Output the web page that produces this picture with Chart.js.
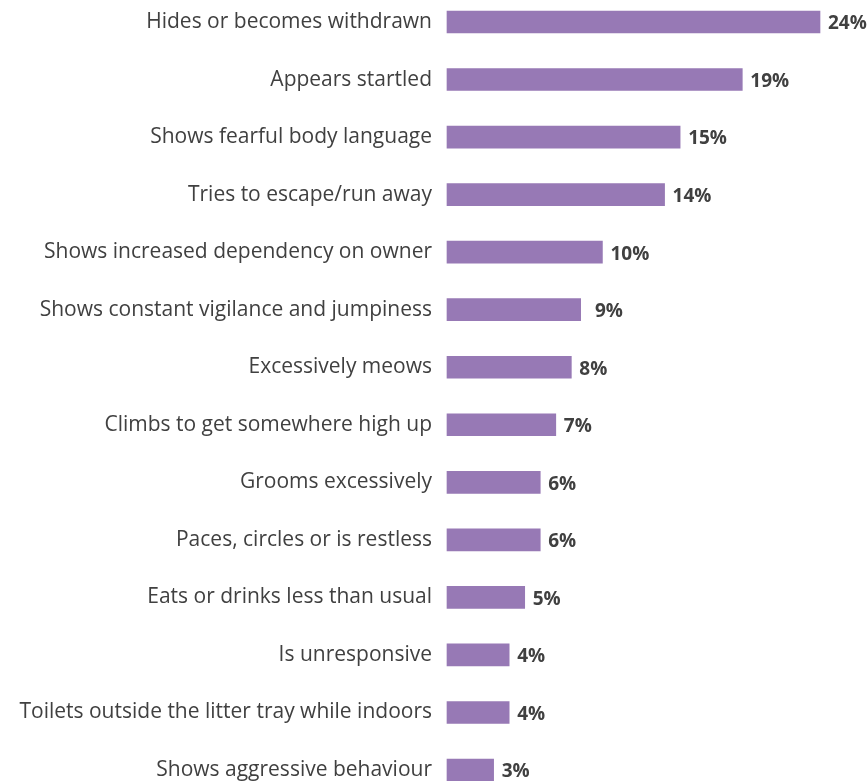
<!DOCTYPE html>
<html lang="en">
<head>
    <meta charset="UTF-8" />
    <title>Cat reactions</title>
    <script src="https://cdn.jsdelivr.net/npm/chart.js"></script>
    <style>
        html, body {
            margin: 0;
            padding: 0;
            background: #fff;
        }
        canvas {
            display: block;
        }
    </style>
</head>
<body>
    <canvas id="grafico" width="868" height="781"></canvas>

    <script>
        const categorias = [
            'Hides or becomes withdrawn',
            'Appears startled',
            'Shows fearful body language',
            'Tries to escape/run away',
            'Shows increased dependency on owner',
            'Shows constant vigilance and jumpiness',
            'Excessively meows',
            'Climbs to get somewhere high up',
            'Grooms excessively',
            'Paces, circles or is restless',
            'Eats or drinks less than usual',
            'Is unresponsive',
            'Toilets outside the litter tray while indoors',
            'Shows aggressive behaviour'
        ];
        const valores = [24, 19, 15, 14, 10, 8.6, 8, 7, 6, 6, 5, 4, 4, 3];
        const etiquetas = ['24%', '19%', '15%', '14%', '10%', '9%', '8%', '7%', '6%', '6%', '5%', '4%', '4%', '3%'];

        // etiquetas de valor a la derecha de cada barra
        const etiquetasValor = {
            id: 'etiquetasValor',
            afterDatasetsDraw(chart) {
                const ctx = chart.ctx;
                const xScale = chart.scales.x;
                const meta = chart.getDatasetMeta(0);
                ctx.save();
                ctx.font = 'bold 19px "Open Sans", sans-serif';
                ctx.fillStyle = '#404040';
                ctx.textAlign = 'left';
                ctx.textBaseline = 'middle';
                meta.data.forEach((bar, i) => {
                    const x = Math.max(bar.x, xScale.getPixelForValue(parseFloat(etiquetas[i])));
                    ctx.fillText(etiquetas[i], x + 8, bar.y + 2);
                });
                ctx.restore();
            }
        };

        new Chart(document.getElementById('grafico'), {
            type: 'bar',
            data: {
                labels: categorias,
                datasets: [{
                    data: valores,
                    backgroundColor: '#9779b5',
                    barThickness: 22,
                    clip: false
                }]
            },
            options: {
                indexAxis: 'y',
                responsive: false,
                animation: false,
                layout: {
                    padding: { top: 22, bottom: 11, left: 0, right: 48 }
                },
                plugins: {
                    legend: { display: false },
                    tooltip: { enabled: false }
                },
                scales: {
                    x: {
                        display: false,
                        min: 0,
                        max: 24
                    },
                    y: {
                        offset: false,
                        grid: { display: false, drawTicks: false },
                        border: { display: false },
                        ticks: {
                            padding: 15,
                            color: '#404040',
                            font: { family: '"Open Sans", sans-serif', size: 21 }
                        },
                        afterFit(scale) {
                            scale.width = 447;
                            scale.paddingTop = 0;
                            scale.paddingBottom = 0;
                        }
                    }
                }
            },
            plugins: [etiquetasValor]
        });
    </script>
</body>
</html>
